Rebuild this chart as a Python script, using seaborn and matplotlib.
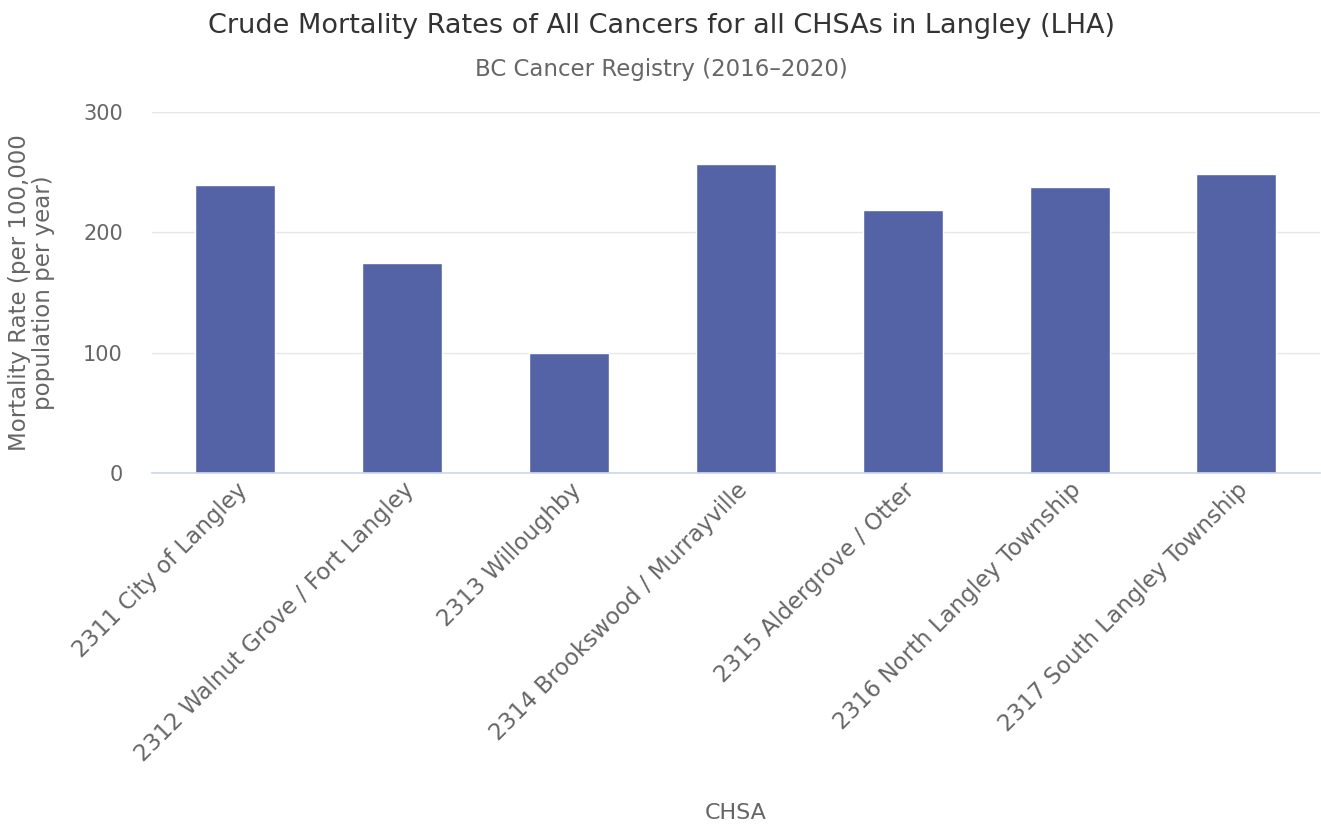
import pandas as pd
import seaborn as sns
import matplotlib.pyplot as plt

sns.set_theme(style="white")
plt.rcParams["font.family"] = ["DejaVu Sans"]

chsa = [
    "2311 City of Langley",
    "2312 Walnut Grove / Fort Langley",
    "2313 Willoughby",
    "2314 Brookswood / Murrayville",
    "2315 Aldergrove / Otter",
    "2316 North Langley Township",
    "2317 South Langley Township",
]
rate = [239.4, 174.6, 99.8, 256.9, 218.6, 237.7, 248.5]

df = pd.DataFrame({"CHSA": chsa, "rate": rate})

fig = plt.figure(figsize=(13.21, 8.25), dpi=100)
ax = fig.add_axes([0.1151, 0.4267, 0.8840, 0.4375])

sns.barplot(
    data=df, x="CHSA", y="rate", color="#5463a6", saturation=1,
    width=0.48, edgecolor="white", linewidth=1, ax=ax,
)

ax.set_ylim(0, 300)
ax.set_yticks([0, 100, 200, 300])
ax.set_xlim(-0.5, len(chsa) - 0.5)
ax.grid(axis="y", color="#e6e6e6", linewidth=1)
ax.set_axisbelow(True)
for side in ["top", "right", "left"]:
    ax.spines[side].set_visible(False)
ax.spines["bottom"].set_color("#ccd6eb")
ax.spines["bottom"].set_linewidth(1.2)
ax.tick_params(axis="x", length=0, labelsize=16.5, labelcolor="#666666", pad=4)
ax.tick_params(axis="y", length=0, labelsize=15, labelcolor="#666666", pad=21)
plt.setp(ax.get_xticklabels(), rotation=45, ha="right", rotation_mode="anchor")

ax.set_xlabel("CHSA", fontsize=16, color="#666666")
ax.xaxis.set_label_coords(0.5, -0.915)
ax.set_ylabel("Mortality Rate (per 100,000\npopulation per year)", fontsize=16.5,
              color="#666666", linespacing=1.05)
ax.yaxis.set_label_coords(-0.083, 0.5)

fig.text(0.501, 0.968, "Crude Mortality Rates of All Cancers for all CHSAs in Langley (LHA)",
         ha="center", va="center", fontsize=19.5, color="#333333")
fig.text(0.501, 0.916, "BC Cancer Registry (2016\u20132020)",
         ha="center", va="center", fontsize=16.5, color="#666666")

fig.savefig("out.png", dpi=100)
